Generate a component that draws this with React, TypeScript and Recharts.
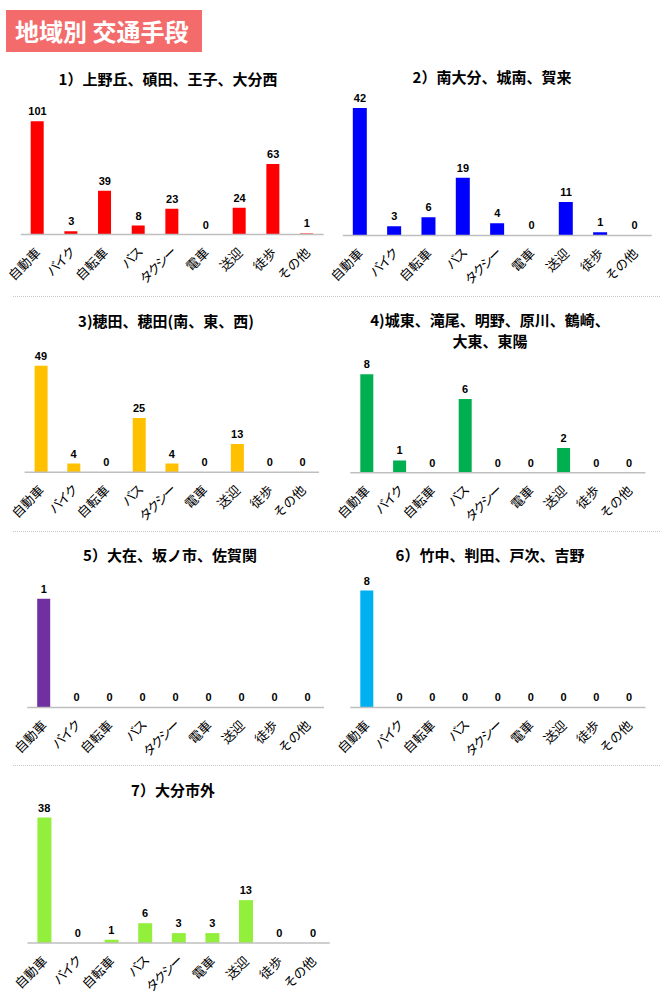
import { ComposedChart, Bar, Line, XAxis, YAxis, LabelList } from "recharts";

const categories = ["自動車", "バイク", "自転車", "バス", "タクシー", "電車", "送迎", "徒歩", "その他"];

const values1 = [101, 3, 39, 8, 23, 0, 24, 63, 1];
const values2 = [42, 3, 6, 19, 4, 0, 11, 1, 0];
const values3 = [49, 4, 0, 25, 4, 0, 13, 0, 0];
const values4 = [8, 1, 0, 6, 0, 0, 2, 0, 0];
const values5 = [1, 0, 0, 0, 0, 0, 0, 0, 0];
const values6 = [8, 0, 0, 0, 0, 0, 0, 0, 0];
const values7 = [38, 0, 1, 6, 3, 3, 13, 0, 0];

const title1 = ["1）上野丘、碩田、王子、大分西"];
const title2 = ["2）南大分、城南、賀来"];
const title3 = ["3)穂田、穂田(南、東、西)"];
const title4 = ["4)城東、滝尾、明野、原川、鶴崎、", "大東、東陽"];
const title5 = ["5）大在、坂ノ市、佐賀関"];
const title6 = ["6）竹中、判田、戸次、吉野"];
const title7 = ["7）大分市外"];

const JP = '"Noto Sans CJK JP", "Noto Sans", sans-serif';

// layout of each small chart (svg origin/width, axis span, baseline, plot height)
const panels = [
  { values: values1, title: title1, color: "#FF0000", x0: 0, w: 335, axisL: 20.7, axisR: 323.7, base: 235, plotH: 134.6, max: 120, barSize: 13, titleX: 168, titleY: 79 },
  { values: values2, title: title2, color: "#0000FF", x0: 320, w: 350, axisL: 342.8, axisR: 651.8, base: 235, plotH: 136.4, max: 45, barSize: 14, titleX: 492, titleY: 77 },
  { values: values3, title: title3, color: "#FFC000", x0: 0, w: 335, axisL: 24.6, axisR: 319, base: 472.3, plotH: 130.2, max: 60, barSize: 13, titleX: 166, titleY: 321 },
  { values: values4, title: title4, color: "#00B050", x0: 320, w: 350, axisL: 350.3, axisR: 645.5, base: 472.7, plotH: 110.7, max: 9, barSize: 13, titleX: 490, titleY: 320 },
  { values: values5, title: title5, color: "#7030A0", x0: 0, w: 335, axisL: 27.2, axisR: 324, base: 707.7, plotH: 130.4, max: 1.2, barSize: 13, titleX: 170, titleY: 555 },
  { values: values6, title: title6, color: "#00B0F0", x0: 320, w: 350, axisL: 350.3, axisR: 645.5, base: 707.7, plotH: 131.4, max: 9, barSize: 13, titleX: 490, titleY: 555 },
  { values: values7, title: title7, color: "#92F03C", x0: 0, w: 335, axisL: 27.4, axisR: 329.8, base: 943, plotH: 132, max: 40, barSize: 14, titleX: 173, titleY: 790 },
];

const dividers = [296, 531, 765];

const KANA = /^[\u30A0-\u30FF]+$/;

const RotatedTick = (props: any) => {
  const { x, y, payload } = props;
  const label = String(payload.value);
  return (
    <text
      transform={`translate(${x + 4}, ${y + 19}) rotate(-45)`}
      textAnchor="end"
      fontSize={13}
      fontFamily={JP}
      fill="#000"
      letterSpacing={KANA.test(label) ? -2 : 0}
    >
      {label}
    </text>
  );
};

const PAD_TOP = 25;
const AXIS_H = 65;

function Panel({ p }: { p: (typeof panels)[number] }) {
  const rows = categories.map((name, i) => ({ name, value: p.values[i] }));
  const top = p.base - p.plotH - PAD_TOP;
  return (
    <>
      {p.title.map((line, i) => (
        <div
          key={i}
          style={{
            position: "absolute",
            left: p.titleX - 160,
            width: 320,
            top: p.titleY - 10 + i * 21,
            height: 20,
            lineHeight: "20px",
            textAlign: "center",
            fontFamily: JP,
            fontWeight: 700,
            fontSize: 15,
            color: "#000",
            whiteSpace: "nowrap",
          }}
        >
          {line}
        </div>
      ))}
      <div style={{ position: "absolute", left: p.x0, top }}>
        <ComposedChart
          width={p.w}
          height={PAD_TOP + p.plotH + AXIS_H}
          data={rows}
          margin={{ top: PAD_TOP, bottom: 0, left: p.axisL - p.x0, right: p.x0 + p.w - p.axisR }}
        >
          <XAxis
            dataKey="name"
            height={AXIS_H}
            interval={0}
            tickLine={false}
            tickSize={0}
            tickMargin={0}
            axisLine={{ stroke: "#BFBFBF", strokeWidth: 1.5 }}
            tick={<RotatedTick />}
          />
          <YAxis hide domain={[0, p.max]} allowDataOverflow />
          <Bar dataKey="value" fill={p.color} barSize={p.barSize} isAnimationActive={false} />
          {/* invisible series carrying the value labels, so zeros get one too */}
          <Line
            dataKey="value"
            stroke="none"
            dot={false}
            activeDot={false}
            isAnimationActive={false}
          >
            <LabelList
              dataKey="value"
              position="top"
              offset={6}
              fontSize={11}
              fontWeight={700}
              fontFamily='"Liberation Sans", Arial, sans-serif'
              fill="#000"
            />
          </Line>
        </ComposedChart>
      </div>
    </>
  );
}

export default function App() {
  return (
    <div style={{ position: "absolute", left: 0, top: 0, width: 670, height: 1000, background: "#fff", overflow: "hidden" }}>
      <div
        style={{
          position: "absolute",
          left: 6,
          top: 10,
          width: 196,
          height: 42,
          background: "#F36B6B",
          color: "#fff",
          fontFamily: JP,
          fontWeight: 700,
          fontSize: 24,
          lineHeight: "42px",
          paddingLeft: 9,
          boxSizing: "border-box",
          whiteSpace: "nowrap",
        }}
      >
        地域別 交通手段
      </div>
      {dividers.map((y) => (
        <div
          key={y}
          style={{ position: "absolute", left: 13, top: y, width: 647, borderTop: "1px dotted #C8C8C8" }}
        />
      ))}
      {panels.map((p, i) => (
        <Panel key={i} p={p} />
      ))}
    </div>
  );
}
